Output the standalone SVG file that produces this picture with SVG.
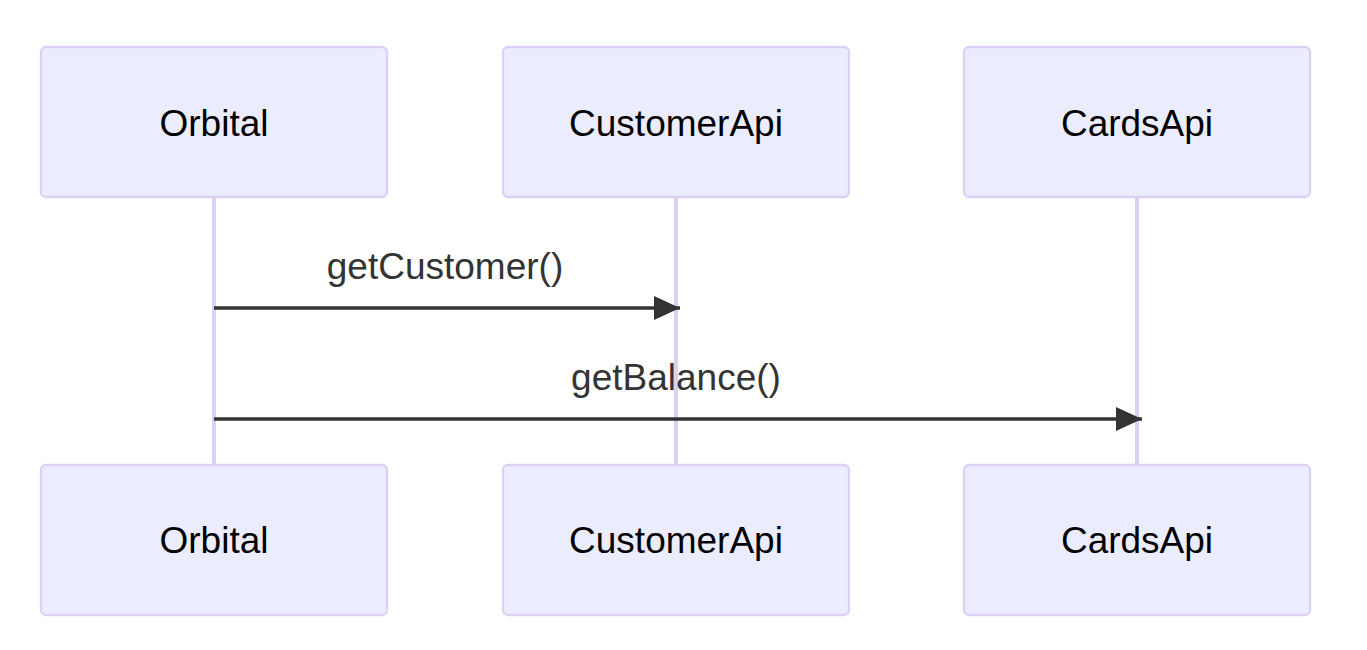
<svg xmlns="http://www.w3.org/2000/svg" width="1367" height="650" viewBox="0 0 1367 650">
<style>
.actor{fill:#ECECFF;stroke:#DCD0F5;stroke-width:2.3}
.life{stroke:#DCD0F5;stroke-width:4}
.atext{font-family:"Liberation Sans",Arial,sans-serif;font-size:37px;fill:#000;text-anchor:middle;dominant-baseline:central}
.mtext{font-family:"Liberation Sans",Arial,sans-serif;font-size:37px;fill:#333;text-anchor:middle}
.msg{stroke:#333;stroke-width:3.5;fill:none}
</style>
<defs>
<marker id="arrow" markerUnits="userSpaceOnUse" markerWidth="26" markerHeight="24" refX="26" refY="12" orient="auto">
<path d="M0,0 L26,12 L0,24 Z" fill="#333"/>
</marker>
</defs>
<g id="lifelines">
<line class="life" x1="214" y1="197" x2="214" y2="465"/>
<line class="life" x1="676" y1="197" x2="676" y2="465"/>
<line class="life" x1="1137" y1="197" x2="1137" y2="465"/>
</g>
<g id="orbital-top"><rect class="actor" x="41" y="47" width="346" height="150" rx="5"/><text class="atext" x="214" y="123">Orbital</text></g>
<g id="customerapi-top"><rect class="actor" x="503" y="47" width="346" height="150" rx="5"/><text class="atext" x="676" y="123">CustomerApi</text></g>
<g id="cardsapi-top"><rect class="actor" x="964" y="47" width="346" height="150" rx="5"/><text class="atext" x="1137" y="123">CardsApi</text></g>
<g id="orbital-bottom"><rect class="actor" x="41" y="465" width="346" height="150" rx="5"/><text class="atext" x="214" y="540">Orbital</text></g>
<g id="customerapi-bottom"><rect class="actor" x="503" y="465" width="346" height="150" rx="5"/><text class="atext" x="676" y="540">CustomerApi</text></g>
<g id="cardsapi-bottom"><rect class="actor" x="964" y="465" width="346" height="150" rx="5"/><text class="atext" x="1137" y="540">CardsApi</text></g>
<g id="connectors">
<line class="msg" x1="214" y1="308" x2="680" y2="308" marker-end="url(#arrow)"/>
<text class="mtext" x="445" y="279">getCustomer()</text>
<line class="msg" x1="214" y1="419" x2="1142" y2="419" marker-end="url(#arrow)"/>
<text class="mtext" x="676" y="390">getBalance()</text>
</g>
</svg>
